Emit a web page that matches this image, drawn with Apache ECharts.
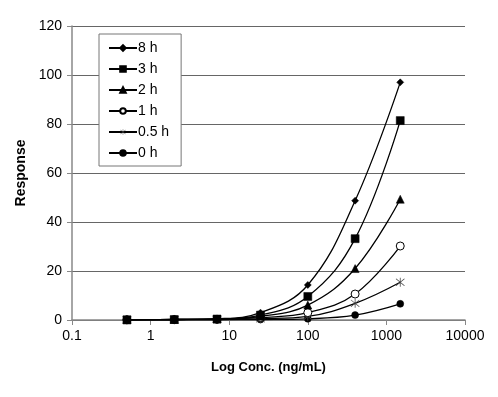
<!DOCTYPE html>
<html><head><meta charset="utf-8">
<script src="https://cdn.jsdelivr.net/npm/echarts@6/dist/echarts.min.js"></script>
<style>html,body{margin:0;padding:0;background:#fff}#c{width:498px;height:397px}</style>
</head><body><div id="c"></div>
<script>
const concentrations = [0.5, 2, 7, 25, 100, 400, 1500];
const seriesNames = ['8 h', '3 h', '2 h', '1 h', '0.5 h', '0 h'];
const v8h  = [0.1, 0.2, 0.5, 3.0, 14.3, 48.7, 97.0];
const v3h  = [0.1, 0.2, 0.4, 2.0, 9.6, 33.2, 81.4];
const v2h  = [0.1, 0.2, 0.4, 1.5, 6.1, 21.0, 49.3];
const v1h  = [0.1, 0.2, 0.3, 1.0, 3.0, 10.6, 30.2];
const v05h = [0.1, 0.1, 0.2, 0.5, 1.5, 6.8, 15.4];
const v0h  = [0.1, 0.1, 0.1, 0.2, 0.5, 2.0, 6.6];
const yTicks = [0, 20, 40, 60, 80, 100, 120];
const xTicks = [0.1, 1, 10, 100, 1000, 10000];

const asterisk = 'path://M-0.35,-5 L0.35,-5 L0.35,5 L-0.35,5 Z M-4.1,-3.6 L-3.6,-4.1 L4.1,3.6 L3.6,4.1 Z M3.6,-4.1 L4.1,-3.6 L-3.6,4.1 L-4.1,3.6 Z';
const symbols = [
  {s:'diamond', size:7, fill:'#000'},
  {s:'rect', size:8, fill:'#000'},
  {s:'triangle', size:8, fill:'#000'},
  {s:'circle', size:8, fill:'#fff'},
  {s:asterisk, size:9, fill:'#444'},
  {s:'circle', size:7, fill:'#000'}
];
const allVals = [v8h, v3h, v2h, v1h, v05h, v0h];
const series = allVals.map((vals, i) => ({
  name: seriesNames[i],
  type: 'line',
  smooth: 0.4,
  data: concentrations.map((c, k) => [c, vals[k]]),
  symbol: symbols[i].s,
  symbolSize: symbols[i].size,
  showAllSymbol: true,
  lineStyle: {color:'#000', width:1.3},
  itemStyle: {color: symbols[i].fill, borderColor: i===4 ? '#444' : '#000', borderWidth: i===3 ? 1 : (i===4 ? 0 : 0.5)},
  z: 10 - i
}));

const chart = echarts.init(document.getElementById('c'), null, {renderer:'canvas'});
chart.setOption({
  animation: false,
  backgroundColor: '#fff',
  grid: {left: 72, right: 33, top: 26, bottom: 77, containLabel: false},
  legend: {
    orient: 'vertical', left: 99, top: 34,
    data: seriesNames,
    itemWidth: 28, itemHeight: 7, itemGap: 7,
    padding: [7, 12, 6, 9],
    borderColor: '#777', borderWidth: 1, backgroundColor: '#fff',
    textStyle: {fontFamily: 'Liberation Sans, Arial', fontSize: 14, color: '#000', padding:[0,0,0,-4]}
  },
  xAxis: {
    type: 'log', logBase: 10, min: 0.1, max: 10000,
    name: 'Log Conc. (ng/mL)', nameLocation: 'middle', nameGap: 41,
    nameTextStyle: {fontFamily: 'Liberation Sans, Arial', fontSize: 13, fontWeight: 'bold', color: '#000'},
    axisLine: {lineStyle: {color: '#888', width: 1.5}},
    axisTick: {show: true, inside: false, length: 5, lineStyle: {color: '#888'}},
    splitLine: {show: false},
    minorTick: {show: false},
    axisLabel: {fontFamily: 'Liberation Sans, Arial', fontSize: 14, color: '#000', margin: 9,
      formatter: v => { const t = xTicks.find(x => Math.abs(Math.log10(x) - Math.log10(v)) < 1e-6); return t === undefined ? '' : String(t); }}
  },
  yAxis: {
    type: 'value', min: 0, max: 120, interval: 20,
    name: 'Response', nameLocation: 'middle', nameGap: 44, nameRotate: 90,
    nameTextStyle: {fontFamily: 'Liberation Sans, Arial', fontSize: 14, fontWeight: 'bold', color: '#000'},
    axisLine: {show: true, lineStyle: {color: '#888', width: 1.5}},
    axisTick: {show: true, inside: false, length: 5, lineStyle: {color: '#888'}},
    splitLine: {show: true, lineStyle: {color: '#666', width: 1}},
    axisLabel: {fontFamily: 'Liberation Sans, Arial', fontSize: 14, color: '#000', margin: 10,
      formatter: v => yTicks.includes(v) ? String(v) : ''}
  },
  series: series
});
</script></body></html>
